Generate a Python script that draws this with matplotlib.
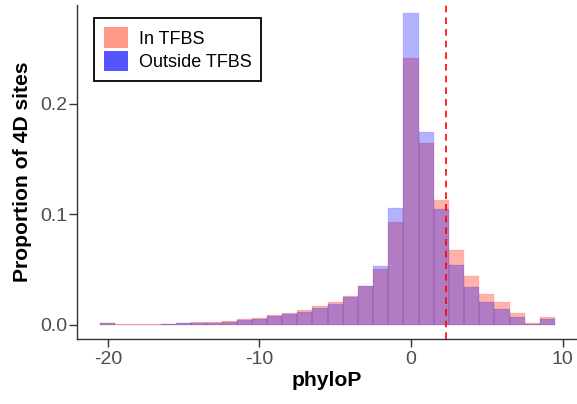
import numpy as np
import matplotlib
matplotlib.use("Agg")
from matplotlib import pyplot as plt
from matplotlib.patches import Patch

plt.rcParams['font.family'] = ['Liberation Sans', 'DejaVu Sans']
plt.rcParams['axes.unicode_minus'] = False

# phyloP score bins (unit width, centred on integers)
phylop_bins = np.arange(-20, 10)

# proportion of 4D sites per bin
in_tfbs = [0.0015, 0.0003, 0.0003, 0.0003, 0.0009, 0.0015, 0.0021, 0.0027, 0.0036, 0.0048,
           0.0063, 0.0087, 0.0109, 0.0136, 0.0169, 0.0205, 0.0259, 0.0347, 0.0504, 0.0926,
           0.2413, 0.1644, 0.1131, 0.0679, 0.0437, 0.0275, 0.0202, 0.0109, 0.0018, 0.0069]
outside_tfbs = [0.0015, 0.0002, 0.0002, 0.0002, 0.0008, 0.0013, 0.0018, 0.0020, 0.0027, 0.0039,
                0.0051, 0.0075, 0.0094, 0.0115, 0.0148, 0.0187, 0.0247, 0.0347, 0.0534, 0.1056,
                0.2821, 0.1741, 0.1047, 0.0543, 0.0341, 0.0202, 0.0145, 0.0069, 0.0009, 0.0051]

threshold = 2.31  # cutoff drawn as dashed line

orange = (1.0, 0.40, 0.32)
blue = (0.0, 0.0, 1.0)

fig = plt.figure(figsize=(5.77, 4.04), dpi=100)
ax = fig.add_axes([0.1343, 0.160, 0.865, 0.828])

ax.bar(phylop_bins, in_tfbs, width=1.0, color=orange, alpha=0.5,
       edgecolor=orange, linewidth=0.2)
ax.bar(phylop_bins, outside_tfbs, width=1.0, color=blue, alpha=0.3,
       edgecolor=blue, linewidth=0.2)

ax.axvline(threshold, color='red', linestyle=(0, (4, 3)), linewidth=1.2, clip_on=False)

ax.set_xlim(-22.0, 10.92)
ax.set_ylim(-0.0132, 0.2893)
ax.set_xticks([-20, -10, 0, 10])
ax.set_yticks([0.0, 0.1, 0.2])
ax.set_yticklabels(['0.0', '0.1', '0.2'])

for side in ['top', 'right']:
    ax.spines[side].set_visible(False)
for side in ['left', 'bottom']:
    ax.spines[side].set_color('#333333')
    ax.spines[side].set_linewidth(1.0)

ax.tick_params(axis='both', direction='out', length=6, width=1.0, color='#333333',
               labelsize=14, labelcolor='#4d4d4d')
ax.tick_params(axis='y', pad=1.5)
ax.tick_params(axis='x', pad=2.5)

ax.set_xlabel('phyloP', fontsize=15.2, fontweight='bold', labelpad=2)
ax.set_ylabel('Proportion of 4D sites', fontsize=15.2, fontweight='bold', labelpad=6)

handles = [Patch(facecolor='#ff9a88', edgecolor='none', label='In TFBS'),
           Patch(facecolor='#5555ff', edgecolor='none', label='Outside TFBS')]
leg = ax.legend(handles=handles, loc='upper left', bbox_to_anchor=(0.0337, 0.962),
                borderaxespad=0, fontsize=13, frameon=True, fancybox=False, framealpha=1,
                edgecolor='black', handlelength=1.3, handleheight=1.4,
                handletextpad=0.6, labelspacing=0.12, borderpad=0.55)
leg.get_frame().set_linewidth(1.3)

fig.savefig('out.png', dpi=100)
